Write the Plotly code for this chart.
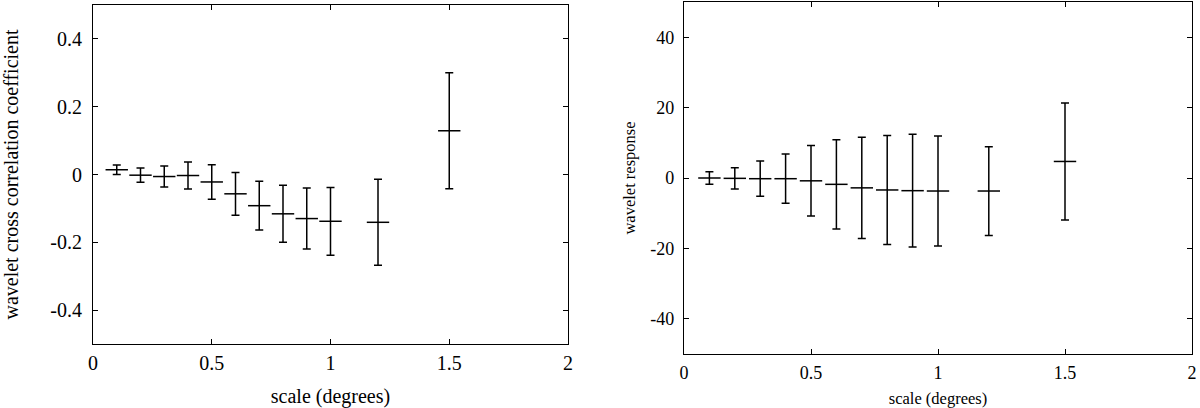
import plotly.graph_objects as go

scale = [0.1, 0.2, 0.3, 0.4, 0.5, 0.6, 0.7, 0.8, 0.9, 1.0, 1.2, 1.5]

corr = [0.014, -0.002, -0.006, -0.003, -0.022, -0.057, -0.092, -0.116, -0.130, -0.138, -0.141, 0.129]
corr_err = [0.014, 0.021, 0.031, 0.040, 0.051, 0.063, 0.072, 0.084, 0.090, 0.100, 0.127, 0.171]

resp = [0.0, -0.1, -0.2, -0.2, -0.8, -1.8, -2.8, -3.4, -3.6, -3.7, -3.7, 4.7]
resp_err = [1.8, 3.0, 5.0, 7.0, 10.0, 12.7, 14.4, 15.5, 16.0, 15.6, 12.6, 16.6]

left_yticks = [-0.4, -0.2, 0, 0.2, 0.4]
left_yticklabels = ["-0.4", "-0.2", "0", "0.2", "0.4"]
right_yticks = [-40, -20, 0, 20, 40]
right_yticklabels = ["-40", "-20", "0", "20", "40"]
xticks = [0, 0.5, 1, 1.5, 2]
xticklabels = ["0", "0.5", "1", "1.5", "2"]

FONT = "Liberation Serif, Times New Roman, serif"

fig = go.Figure()

def add_series(x, y, err, xa, ya):
    fig.add_trace(go.Scatter(
        x=x, y=y, xaxis=xa, yaxis=ya, mode="markers",
        marker=dict(symbol="line-ew", size=16, line=dict(color="black", width=1.5), color="black"),
        error_y=dict(type="data", array=err, visible=True, color="black", thickness=1.5, width=4),
        showlegend=False, hoverinfo="x+y",
    ))

add_series(scale, corr, corr_err, "x", "y")
add_series(scale, resp, resp_err, "x2", "y2")

H = 408.0
W = 1200.0

def axis_common(size):
    return dict(
        showline=True, linecolor="black", linewidth=1.2, mirror="ticks",
        ticks="inside", ticklen=5, tickcolor="black", tickwidth=1,
        showgrid=False, zeroline=False, automargin=False,
        tickfont=dict(family=FONT, size=size, color="black"),
    )

fig.update_layout(
    width=1200, height=408,
    margin=dict(l=0, r=0, t=0, b=0),
    paper_bgcolor="white", plot_bgcolor="white",
    font=dict(family=FONT, color="black"),
    xaxis=dict(domain=[93 / W, 568 / W], range=[0, 2], tickvals=xticks, ticktext=xticklabels,
               anchor="y", ticklabelstandoff=1,
               title=dict(text="scale (degrees)", font=dict(family=FONT, size=20), standoff=15),
               **axis_common(20)),
    yaxis=dict(domain=[1 - 344 / H, 1 - 5 / H], range=[-0.5, 0.5], tickvals=left_yticks,
               ticktext=left_yticklabels, anchor="x", ticklabelstandoff=6,
               title=dict(text="wavelet cross correlation coefficient", font=dict(family=FONT, size=20), standoff=27),
               **axis_common(20)),
    xaxis2=dict(domain=[684 / W, 1192 / W], range=[0, 2], tickvals=xticks, ticktext=xticklabels,
                anchor="y2", ticklabelstandoff=2,
                title=dict(text="scale (degrees)", font=dict(family=FONT, size=16.5), standoff=11),
                **axis_common(18)),
    yaxis2=dict(domain=[1 - 354 / H, 1 - 2 / H], range=[-50, 50], tickvals=right_yticks,
                ticktext=right_yticklabels, anchor="x2", ticklabelstandoff=5,
                title=dict(text="wavelet response", font=dict(family=FONT, size=16.5), standoff=10),
                **axis_common(18)),
)

fig.write_html("out.html", config={"displayModeBar": False},
               post_script="document.body.style.margin='0';document.body.style.overflow='hidden';")
